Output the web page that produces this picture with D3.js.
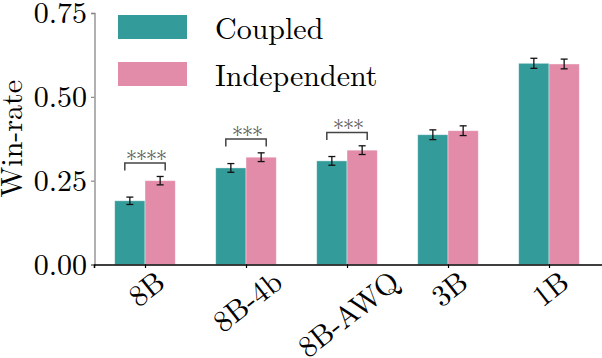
<!DOCTYPE html>
<html>
<head>
<meta charset="utf-8">
<script src="https://cdn.jsdelivr.net/npm/d3@7"></script>
<style>
  body { margin: 0; background: #fff; }
</style>
</head>
<body>
<svg id="svg" width="602" height="358"></svg>
<script>
// chart data
let models = ['8B', '8B-4b', '8B-AWQ', '3B', '1B'];
let seriesNames = ['Coupled', 'Independent'];
let coupled = [0.190, 0.288, 0.309, 0.387, 0.600];
let independent = [0.250, 0.320, 0.341, 0.399, 0.598];
let coupledErr = [0.011, 0.013, 0.013, 0.0145, 0.015];
let independentErr = [0.0125, 0.013, 0.013, 0.0145, 0.0145];
let yTicks = [0, 0.25, 0.5, 0.75];
// significance brackets: model index, label, bracket top
let sigIndex = [0, 1, 2];
let sigLabels = ['****', '***', '***'];
let sigTop = [0.303, 0.374, 0.394];

let colors = ['#339b99', '#e38ca9'];
let serif = '"Latin Modern Roman"';

let svg = d3.select('#svg');
let padding = { t: 13, r: 0, b: 94, l: 94 };
let svgHeight = +svg.attr('height');
let axisBottom = svgHeight - padding.b + 0.5;

// x as continuous index, like matplotlib
let xScale = d3.scaleLinear()
    .domain([-0.505, 4.55])
    .range([padding.l, padding.l + 5.055 * 101]);
let yScale = d3.scaleLinear()
    .domain([0, 0.75])
    .range([axisBottom, padding.t]);

let barW = 0.3;
let bw = xScale(barW) - xScale(0);

let rows = models.map((m, i) => ({
    id: m, i: i,
    vals: [coupled[i], independent[i]],
    errs: [coupledErr[i], independentErr[i]]
}));

let chartG = svg.append('g');

// bars
rows.forEach((row) => {
    [0, 1].forEach((s) => {
        let x0 = xScale(row.i + (s === 0 ? -barW : 0));
        chartG.append('rect')
            .attr('x', x0)
            .attr('y', yScale(row.vals[s]))
            .attr('width', bw)
            .attr('height', yScale(0) - yScale(row.vals[s]))
            .attr('fill', colors[s])
            .attr('stroke', '#fff')
            .attr('stroke-opacity', 0.5)
            .attr('stroke-width', 0.8);
    });
});

// error bars
rows.forEach((row) => {
    [0, 1].forEach((s) => {
        let cx = xScale(row.i + (s === 0 ? -barW / 2 : barW / 2));
        let lo = yScale(row.vals[s] - row.errs[s]);
        let hi = yScale(row.vals[s] + row.errs[s]);
        let g = chartG.append('g').attr('stroke', '#111').attr('stroke-width', 1.3);
        g.append('line').attr('x1', cx).attr('x2', cx).attr('y1', lo).attr('y2', hi);
        g.append('line').attr('x1', cx - 3.5).attr('x2', cx + 3.5).attr('y1', lo).attr('y2', lo);
        g.append('line').attr('x1', cx - 3.5).attr('x2', cx + 3.5).attr('y1', hi).attr('y2', hi);
    });
});

// significance brackets
sigIndex.forEach((idx, k) => {
    let x1 = xScale(idx - 0.2);
    let x2 = xScale(idx + 0.2);
    let yt = yScale(sigTop[k]);
    let yb = yt + 7.5;
    chartG.append('path')
        .attr('d', 'M' + x1 + ',' + yb + 'V' + yt + 'H' + x2 + 'V' + yb)
        .attr('fill', 'none')
        .attr('stroke', '#444')
        .attr('stroke-width', 1.5);
    chartG.append('text')
        .attr('x', xScale(idx) + 0.75)
        .attr('y', yt + 4)
        .attr('text-anchor', 'middle')
        .style('font-family', serif)
        .style('letter-spacing', '-1.5px')
        .attr('font-size', '23px')
        .attr('fill', '#5a5a5a')
        .text(sigLabels[k]);
});

// y axis
let yAxis = svg.append('g')
    .attr('transform', 'translate(' + (padding.l + 0.5) + ',0)')
    .call(d3.axisLeft(yScale).tickValues(yTicks).tickFormat(d3.format('.2f')).tickSizeOuter(0).tickSize(3.5).tickPadding(4));
yAxis.attr('font-family', null);
yAxis.select('.domain').attr('stroke', '#888').attr('stroke-width', 1.3);
yAxis.selectAll('.tick line').attr('stroke', '#888').attr('stroke-width', 1.2);
yAxis.selectAll('.tick text')
    .style('font-family', serif)
    .attr('font-size', '30px')
    .attr('fill', '#000')
    .attr('dy', '0.33em');

// x axis
let xAxis = svg.append('g')
    .attr('transform', 'translate(0,' + axisBottom + ')')
    .call(d3.axisBottom(xScale).tickValues(d3.range(models.length)).tickFormat('').tickSizeOuter(0).tickSize(3.5));
xAxis.select('.domain').attr('stroke', '#000').attr('stroke-width', 1.5);
xAxis.selectAll('.tick line').attr('stroke', '#000').attr('stroke-width', 1.2);

// rotated category labels, centred under the tick, top aligned
let angle = 38;
let rad = angle * Math.PI / 180;
models.forEach((m, i) => {
    let t = svg.append('text')
        .style('font-family', serif)
        .attr('font-size', '30px')
        .attr('text-anchor', 'middle')
        .attr('dominant-baseline', 'central')
        .attr('fill', '#000')
        .text(m);
    let w = t.node().getComputedTextLength();
    let h = 21;
    let halfH = (w * Math.sin(rad) + h * Math.cos(rad)) / 2;
    let cx = xScale(i);
    let cy = axisBottom + 3 + halfH;
    t.attr('transform', 'translate(' + cx + ',' + cy + ') rotate(' + (-angle) + ')');
});

// y label
svg.append('text')
    .attr('transform', 'translate(22,' + ((padding.t + axisBottom) / 2) + ') rotate(-90)')
    .style('font-family', serif)
    .attr('text-anchor', 'middle')
    .attr('font-size', '30px')
    .attr('fill', '#000')
    .text('Win-rate');

// legend
let legend = svg.append('g');
seriesNames.forEach((name, s) => {
    let y0 = 15 + s * 47;
    legend.append('rect')
        .attr('x', 118).attr('y', y0)
        .attr('width', 69).attr('height', 24)
        .attr('fill', colors[s]);
    legend.append('text')
        .attr('x', 215).attr('y', y0 + 23.5)
        .style('font-family', serif)
        .attr('font-size', '30px')
        .attr('fill', '#000')
        .text(name);
});
</script>
</body>
</html>
